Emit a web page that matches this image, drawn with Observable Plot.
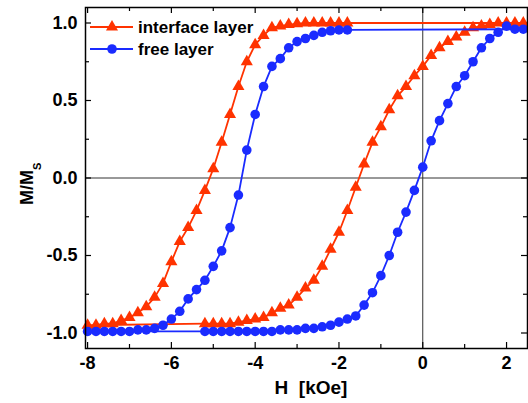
<!DOCTYPE html>
<html><head><meta charset="utf-8">
<script src="https://cdn.jsdelivr.net/npm/d3@7"></script>
<script src="https://cdn.jsdelivr.net/npm/@observablehq/plot@0.6"></script>
<style>body{margin:0;background:#fff}</style>
</head><body><div id="chart"></div>
<script>
// ---- data ----
const seriesNames = ["interface layer", "free layer"];
const seriesColors = ["#ff3300", "#1a2bff"];
const descField = [-1.8,-2.0,-2.2,-2.4,-2.6,-2.8,-3.0,-3.2,-3.4,-3.6,-3.8,-4.0,-4.2,-4.4,-4.6,-4.8,-5.0,-5.2,-5.4,-5.6,-5.8,-6.0,-6.2,-6.4,-6.6,-6.8,-7.0,-7.2,-7.4,-7.6,-7.8,-8.0];
const ascField = [-5.2,-5.0,-4.8,-4.6,-4.4,-4.2,-4.0,-3.8,-3.6,-3.4,-3.2,-3.0,-2.8,-2.6,-2.4,-2.2,-2.0,-1.8,-1.6,-1.4,-1.2,-1.0,-0.8,-0.6,-0.4,-0.2,0.0,0.2,0.4,0.6,0.8,1.0,1.2,1.4,1.6,1.8,2.0,2.2,2.4];
const interfaceDesc = [1.0,1.0,1.0,1.0,1.0,1.0,0.995,0.99,0.98,0.97,0.92,0.86,0.75,0.59,0.41,0.23,0.06,-0.08,-0.21,-0.32,-0.41,-0.54,-0.68,-0.77,-0.83,-0.87,-0.90,-0.92,-0.94,-0.94,-0.95,-0.95];
const interfaceAsc = [-0.94,-0.94,-0.94,-0.94,-0.93,-0.92,-0.91,-0.90,-0.87,-0.84,-0.82,-0.77,-0.71,-0.66,-0.57,-0.46,-0.35,-0.21,-0.06,0.09,0.23,0.33,0.44,0.53,0.59,0.66,0.72,0.79,0.84,0.88,0.91,0.94,0.97,0.98,0.99,1.0,1.0,1.0,1.0];
const freeDesc = [0.955,0.955,0.95,0.94,0.92,0.90,0.88,0.84,0.77,0.72,0.59,0.41,0.18,-0.11,-0.32,-0.47,-0.57,-0.66,-0.72,-0.78,-0.86,-0.91,-0.95,-0.97,-0.98,-0.98,-0.99,-0.99,-0.99,-0.99,-0.99,-0.99];
const freeAsc = [-0.99,-0.99,-0.99,-0.99,-0.99,-0.99,-0.99,-0.99,-0.99,-0.98,-0.98,-0.98,-0.97,-0.97,-0.96,-0.95,-0.93,-0.91,-0.89,-0.82,-0.74,-0.63,-0.50,-0.35,-0.22,-0.08,0.07,0.24,0.37,0.48,0.59,0.66,0.75,0.84,0.90,0.94,0.98,0.96,0.96];
const xMajor = [-8,-6,-4,-2,0,2];
const xMinor = [-7,-5,-3,-1,1];
const yMajor = [-1.0,-0.5,0.0,0.5,1.0];
const yMinor = [-0.75,-0.25,0.25,0.75];
const xTitle = "H\u00a0\u00a0[kOe]";

// ---- build ----
function pts(desc, asc) {
  const d = descField.map((h, i) => ({H: h, M: desc[i]}));
  const a = ascField.map((h, i) => ({H: h, M: asc[i]}));
  return {points: d.concat(a), loop: d.concat(a, [d[0]])};
}
const red = pts(interfaceDesc, interfaceAsc);
const blue = pts(freeDesc, freeAsc);

const W = 528, HT = 403, mL = 85, mR = 1, mT = 7, mB = 55;
const pw = W - mL - mR, ph = HT - mT - mB;
const font = "'Liberation Sans', Arial, Helvetica, sans-serif";

const plot = Plot.plot({
  width: W, height: HT,
  marginLeft: mL, marginRight: mR, marginTop: mT, marginBottom: mB,
  style: {fontFamily: font, fontWeight: "bold", fontSize: "18px", color: "black", background: "white"},
  x: {domain: [-8.05, 2.5]},
  y: {domain: [-1.1, 1.1]},
  marks: [
    Plot.ruleY([0], {stroke: "#333", strokeWidth: 1}),
    Plot.ruleX([0], {stroke: "#333", strokeWidth: 1}),
    Plot.tickX(xMajor, {x: d => d, insetTop: ph - 6, stroke: "black", strokeWidth: 1.2}),
    Plot.tickX(xMinor, {x: d => d, insetTop: ph - 4, stroke: "black", strokeWidth: 1.2}),
    Plot.tickX(xMajor, {x: d => d, insetBottom: ph - 6, stroke: "black", strokeWidth: 1.2}),
    Plot.tickX(xMinor, {x: d => d, insetBottom: ph - 4, stroke: "black", strokeWidth: 1.2}),
    Plot.tickY(yMajor, {y: d => d, insetRight: pw - 6, stroke: "black", strokeWidth: 1.2}),
    Plot.tickY(yMinor, {y: d => d, insetRight: pw - 4, stroke: "black", strokeWidth: 1.2}),
    Plot.tickY(yMajor, {y: d => d, insetLeft: pw - 6, stroke: "black", strokeWidth: 1.2}),
    Plot.tickY(yMinor, {y: d => d, insetLeft: pw - 4, stroke: "black", strokeWidth: 1.2}),
    Plot.axisX(xMajor, {tickSize: 0, tickPadding: 8, tickFormat: d => String(d), label: null}),
    Plot.axisY(yMajor, {tickSize: 0, tickPadding: 8, tickFormat: d => d.toFixed(1), label: null}),
    Plot.line(red.loop, {x: "H", y: "M", stroke: seriesColors[0], strokeWidth: 1.8}),
    Plot.dot(red.points, {x: "H", y: "M", symbol: "triangle", r: 4.5, fill: seriesColors[0], stroke: null}),
    Plot.line(blue.loop, {x: "H", y: "M", stroke: seriesColors[1], strokeWidth: 1.8}),
    Plot.dot(blue.points, {x: "H", y: "M", symbol: "circle", r: 4.8, fill: seriesColors[1], stroke: null}),
    Plot.frame({stroke: "black", strokeWidth: 1.5})
  ]
});

const svg = d3.select(plot);
// axis titles
svg.append("text").attr("x", 311).attr("y", 394).attr("text-anchor", "middle")
  .attr("font-family", font).attr("font-weight", "bold").attr("font-size", 19).attr("fill", "black")
  .text(xTitle);
const yl = svg.append("text").attr("transform", "translate(33,205) rotate(-90)")
  .attr("text-anchor", "start")
  .attr("font-family", font).attr("font-weight", "bold").attr("font-size", 18).attr("fill", "black");
yl.append("tspan").text("M/M");
yl.append("tspan").attr("font-size", 11).attr("dy", 8).text("S");

// legend
const lg = svg.append("g").attr("font-family", font).attr("font-weight", "bold").attr("font-size", 17)
  .attr("text-anchor", "start");
const symbols = [d3.symbolTriangle, d3.symbolCircle];
const sizes = [Math.PI * 20, Math.PI * 23];
seriesNames.forEach((name, i) => {
  const y = 27 + i * 22;
  lg.append("line").attr("x1", 90).attr("x2", 133).attr("y1", y).attr("y2", y)
    .attr("stroke", seriesColors[i]).attr("stroke-width", 1.8);
  lg.append("path").attr("d", d3.symbol(symbols[i], sizes[i])())
    .attr("transform", `translate(112,${y})`).attr("fill", seriesColors[i]);
  lg.append("text").attr("x", 138).attr("y", y + 6).attr("text-anchor", "start").attr("fill", "black").text(name);
});

document.getElementById("chart").appendChild(plot);
</script>
</body></html>
